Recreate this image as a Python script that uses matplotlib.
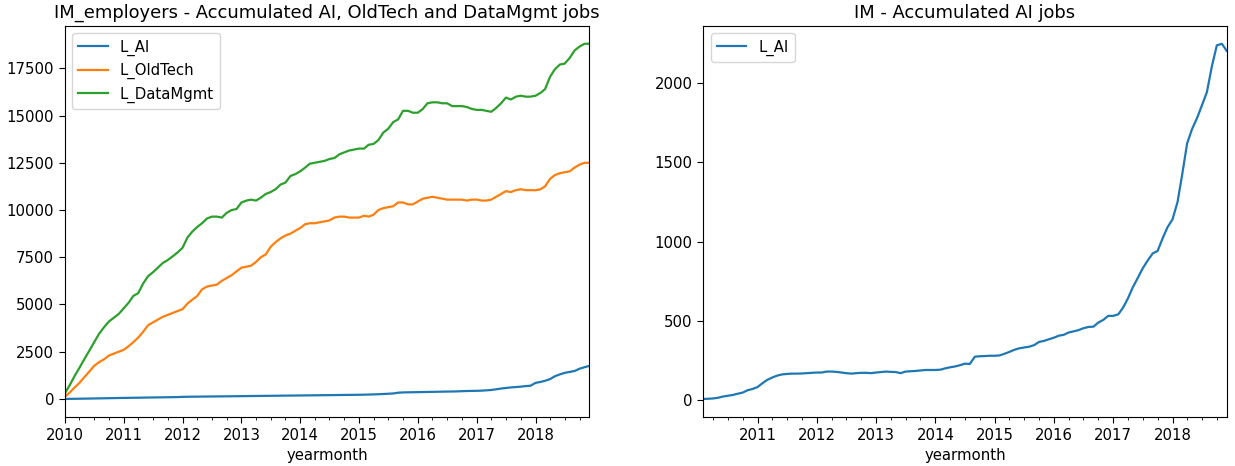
import numpy as np
import pandas as pd
import matplotlib
matplotlib.use('Agg')
import matplotlib.pyplot as plt
import matplotlib.dates as mdates

# monthly values, Jan 2010 .. Dec 2018 (left panel)
months_left = pd.date_range('2010-01-01', '2018-12-01', freq='MS')
l_ai = [0, 4, 8, 12, 16, 20, 25, 30, 35, 40, 45, 50,
        54, 58, 62, 66, 70, 74, 78, 82, 86, 90, 94, 98,
        110, 115, 118, 121, 124, 127, 130, 133, 136, 139, 142, 145,
        148, 151, 154, 157, 160, 163, 166, 169, 172, 175, 178, 181,
        184, 187, 190, 193, 196, 199, 202, 205, 208, 211, 214, 217,
        220, 225, 232, 240, 250, 262, 275, 290, 330, 345, 350, 355,
        360, 365, 370, 375, 380, 385, 390, 395, 400, 410, 420, 425,
        430, 440, 455, 475, 510, 550, 580, 610, 630, 650, 680, 700,
        850, 900, 960, 1050, 1200, 1300, 1380, 1430, 1480, 1600, 1680, 1750]
l_oldtech = [120, 350, 600, 850, 1150, 1450, 1750, 1950, 2100, 2300, 2400, 2500,
             2600, 2800, 3000, 3250, 3550, 3900, 4050, 4200, 4350, 4450, 4550, 4650,
             4750, 5050, 5250, 5450, 5800, 5950, 6000, 6050, 6250, 6400, 6550, 6750,
             6950, 7000, 7050, 7250, 7500, 7650, 8050, 8300, 8500, 8650, 8750, 8900,
             9050, 9250, 9300, 9300, 9350, 9400, 9450, 9600, 9650, 9650, 9600, 9600,
             9600, 9700, 9650, 9750, 10000, 10100, 10150, 10200, 10400, 10400, 10300, 10300,
             10450, 10600, 10650, 10700, 10650, 10600, 10550, 10550, 10550, 10550, 10500, 10550,
             10550, 10500, 10500, 10550, 10700, 10850, 11000, 10950, 11050, 11100, 11050, 11050,
             11050, 11100, 11250, 11650, 11850, 11950, 12000, 12050, 12250, 12400, 12500, 12500]
l_datamgmt = [300, 750, 1200, 1650, 2100, 2550, 3000, 3450, 3800, 4100, 4300, 4500,
              4800, 5100, 5450, 5600, 6100, 6500, 6700, 6950, 7200, 7350, 7550, 7750,
              8000, 8550, 8850, 9100, 9300, 9550, 9650, 9650, 9600, 9850, 10000, 10050,
              10400, 10500, 10550, 10500, 10650, 10850, 10950, 11100, 11350, 11450, 11800, 11900,
              12050, 12250, 12450, 12500, 12550, 12600, 12700, 12750, 12950, 13050, 13150, 13200,
              13250, 13250, 13450, 13500, 13700, 14100, 14300, 14650, 14800, 15250, 15250, 15150,
              15150, 15350, 15650, 15700, 15700, 15650, 15650, 15500, 15500, 15500, 15450, 15350,
              15300, 15300, 15250, 15200, 15400, 15650, 15950, 15850, 16000, 16050, 16000, 16000,
              16050, 16200, 16400, 17050, 17450, 17700, 17750, 18050, 18450, 18650, 18800, 18800]

# monthly values, Feb 2010 .. Dec 2018 (right panel)
months_right = pd.date_range('2010-02-01', '2018-12-01', freq='MS')
im_ai = [5, 6, 8, 12, 20, 25, 30, 38, 45, 60, 68,
         80, 105, 125, 140, 152, 160, 163, 165, 165, 166, 168, 170,
         172, 172, 178, 178, 176, 172, 168, 165, 168, 170, 170, 168,
         172, 175, 178, 176, 175, 168, 178, 180, 182, 185, 188, 188,
         188, 190, 198, 205, 210, 218, 228, 226, 272, 275, 276, 278,
         278, 280, 290, 302, 315, 325, 330, 335, 345, 365, 372, 382,
         392, 405, 410, 425, 432, 440, 452, 460, 462, 488, 505, 530,
         530, 540, 580, 640, 710, 770, 830, 880, 925, 940, 1020, 1090,
         1140, 1250, 1420, 1620, 1710, 1780, 1860, 1945, 2110, 2240, 2250, 2205]

colors = ['#1f77b4', '#ff7f0e', '#2ca02c']

plt.rcParams['font.size'] = 10.7
plt.rcParams['xtick.major.size'] = 4.3
plt.rcParams['ytick.major.size'] = 4.3
plt.rcParams['xtick.minor.size'] = 2.4
plt.rcParams['lines.linewidth'] = 1.6

fig = plt.figure(figsize=(12.35, 4.66), dpi=100)
ax1 = fig.add_axes([0.0526, 0.1058, 0.4246, 0.8384])
ax2 = fig.add_axes([0.5695, 0.1058, 0.4238, 0.8384])

ax1.plot(months_left, l_ai, color=colors[0], label='L_AI')
ax1.plot(months_left, l_oldtech, color=colors[1], label='L_OldTech')
ax1.plot(months_left, l_datamgmt, color=colors[2], label='L_DataMgmt')
ax1.set_xlim(months_left[0], months_left[-1])
ax1.set_title('IM_employers - Accumulated AI, OldTech and DataMgmt jobs', fontsize=12.9)
ax1.legend(loc='upper left')

ax2.plot(months_right, im_ai, color=colors[0], label='L_AI')
ax2.set_xlim(months_right[0], months_right[-1])
ax2.set_title('IM - Accumulated AI jobs', fontsize=12.9)
ax2.legend(loc='upper left')

for ax in (ax1, ax2):
    ax.xaxis.set_major_locator(mdates.YearLocator())
    ax.xaxis.set_major_formatter(mdates.DateFormatter('%Y'))
    ax.xaxis.set_minor_locator(mdates.MonthLocator(bymonth=[4, 7, 10]))
    ax.set_xlabel('yearmonth')

fig.savefig('out.png')
